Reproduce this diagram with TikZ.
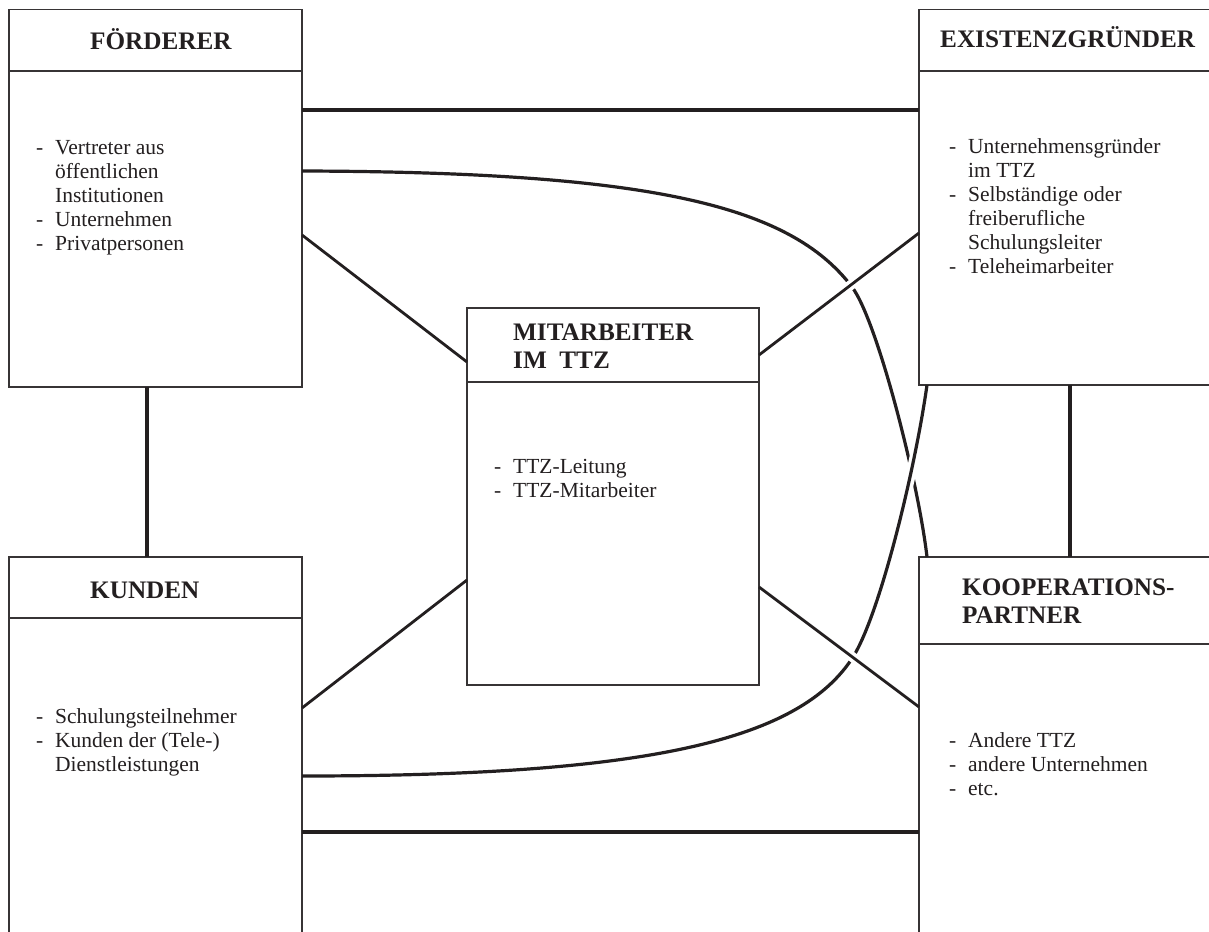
\documentclass[tikz,border=0pt]{standalone}
\usepackage{fontspec}
\setmainfont{Liberation Serif}
\definecolor{ink}{RGB}{35,31,32}
\definecolor{edge}{RGB}{55,52,53}
\newcommand\bitem[1]{\makebox[19pt][l]{-}#1}
\newcommand\bcont[1]{\hspace*{19pt}#1}
\begin{document}
\begin{tikzpicture}[x=1pt,y=-1pt,
  box/.style={draw=edge, line width=1.1pt, outer sep=0pt, inner sep=0pt, anchor=north west},
  hdr/.style={draw=edge, line width=1.1pt},
  title/.style={font=\fontsize{25.2}{28}\selectfont\bfseries, text=ink, anchor=base west, inner sep=0pt},
  body/.style={font=\fontsize{21.5}{24}\selectfont, text=ink, anchor=base west, inner sep=0pt},
  heavy/.style={draw=ink, line width=4.6pt},
  post/.style={draw=ink, line width=4pt},
  diag/.style={draw=ink, line width=2.8pt},
  curve/.style={draw=ink, line width=3.2pt},
  halo/.style={preaction={draw=white, line width=10pt, shorten <=9pt, shorten >=9pt}}
]
\useasboundingbox (0,0) rectangle (1209,931);
\fill[white] (0,0) rectangle (1209,931);
\clip (0,0) rectangle (1209,931);

% boxes
\node[box, minimum width=293pt, minimum height=377.5pt] (F) at (9,9.5) {};
\node[box, minimum width=292pt, minimum height=375.5pt] (E) at (919,9.5) {};
\node[box, minimum width=292pt, minimum height=377pt] (M) at (467,308) {};
\node[box, minimum width=293pt, minimum height=390pt] (K) at (9,557) {};
\node[box, minimum width=292pt, minimum height=390pt] (P) at (919,557) {};

% header separators
\draw[hdr] ([yshift=-61.5pt]F.north west) -- ([yshift=-61.5pt]F.north east);
\draw[hdr] ([yshift=-61.5pt]E.north west) -- ([yshift=-61.5pt]E.north east);
\draw[hdr] ([yshift=-74pt]M.north west) -- ([yshift=-74pt]M.north east);
\draw[hdr] ([yshift=-61pt]K.north west) -- ([yshift=-61pt]K.north east);
\draw[hdr] ([yshift=-87pt]P.north west) -- ([yshift=-87pt]P.north east);

% titles
\node[title] (ft) at (90,50) {FÖRDERER};
\node[title] (et) at (940,48) {EXISTENZGRÜNDER};
\node[title] (mt1) at (513,340) {MITARBEITER};
\node[title] (mt2) at (513,368) {IM\ \ TTZ};
\node[title] (kt) at (90,598) {KUNDEN};
\node[title] (pt1) at (962,595) {KOOPERATIONS-};
\node[title] (pt2) at (962,623) {PARTNER};

% body texts
\node[body] (f1) at (36,154) {\bitem{Vertreter aus}};
\node[body] (f2) at (36,178) {\bcont{öffentlichen}};
\node[body] (f3) at (36,202) {\bcont{Institutionen}};
\node[body] (f4) at (36,226) {\bitem{Unternehmen}};
\node[body] (f5) at (36,250) {\bitem{Privatpersonen}};

\node[body] (e1) at (949,153) {\bitem{Unternehmensgründer}};
\node[body] (e2) at (949,177) {\bcont{im TTZ}};
\node[body] (e3) at (949,201) {\bitem{Selbständige oder}};
\node[body] (e4) at (949,225) {\bcont{freiberufliche}};
\node[body] (e5) at (949,249) {\bcont{Schulungsleiter}};
\node[body] (e6) at (949,273) {\bitem{Teleheimarbeiter}};

\node[body] (m1) at (494,473) {\bitem{TTZ-Leitung}};
\node[body] (m2) at (494,497) {\bitem{TTZ-Mitarbeiter}};

\node[body] (k1) at (36,723) {\bitem{Schulungsteilnehmer}};
\node[body] (k2) at (36,747) {\bitem{Kunden der (Tele-)}};
\node[body] (k3) at (36,771) {\bcont{Dienstleistungen}};

\node[body] (p1) at (949,747) {\bitem{Andere TTZ}};
\node[body] (p2) at (949,771) {\bitem{andere Unternehmen}};
\node[body] (p3) at (949,795) {\bitem{etc.}};

% straight heavy connectors
\draw[heavy] ([yshift=-100.5pt]F.north east) -- ([yshift=-100.5pt]E.north west);
\draw[heavy] ([yshift=-275pt]K.north east) -- ([yshift=-275pt]P.north west);
\draw[post] ([xshift=138pt]F.south west) -- ([xshift=138pt]K.north west);
\draw[post] ([xshift=151pt]E.south west) -- ([xshift=151pt]P.north west);

% curve Foerderer -> Kooperationspartner
\coordinate (ca) at (852,287);
\draw[curve] ([yshift=-161.5pt]F.north east) .. controls (650,172) and (790,205) .. (ca)
  .. controls (877,320) and (918,480) .. ([xshift=8pt]P.north west);

% curve Kunden -> Existenzgruender (on top, with gap)
\coordinate (cb) at (853,657);
\draw[curve, halo] ([yshift=-219pt]K.north east) .. controls (650,776) and (800,740) .. (cb)
  .. controls (880,614) and (915,470) .. ([xshift=8pt]E.south west);

% diagonals to Mitarbeiter
\draw[diag, halo] ([yshift=-225.5pt]F.north east) -- ([yshift=-54pt]M.north west);
\draw[diag, halo] ([yshift=-223.5pt]E.north west) -- ([yshift=-47pt]M.north east);
\draw[diag, halo] ([yshift=-151pt]K.north east) -- ([yshift=-272pt]M.north west);
\draw[diag, halo] ([yshift=-279pt]M.north east) -- ([yshift=-150pt]P.north west);
\end{tikzpicture}
\end{document}
